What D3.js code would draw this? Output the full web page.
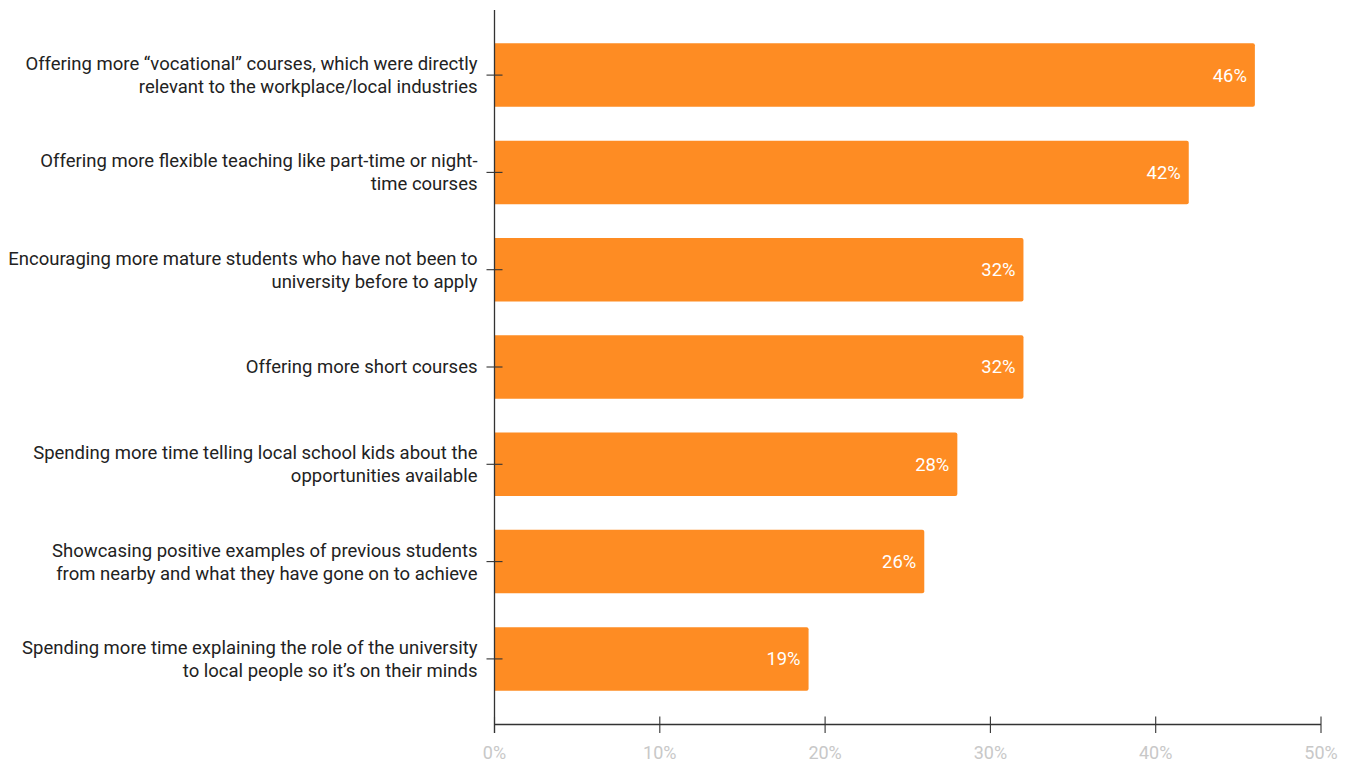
<!DOCTYPE html>
<html>
<head>
<meta charset="utf-8">
<script src="https://cdn.jsdelivr.net/npm/d3@7"></script>
<style>
  html, body { margin: 0; padding: 0; background: #fff; }
  svg { display: block; font-family: Roboto, "Noto Sans", sans-serif; }
</style>
</head>
<body>
<svg id="chart" width="1351" height="764"></svg>
<script>
// Survey answers: each category is split into the lines it is drawn on
const categories = [
  ["Offering more \u201cvocational\u201d courses, which were directly", "relevant to the workplace/local industries"],
  ["Offering more flexible teaching like part-time or night-", "time courses"],
  ["Encouraging more mature students who have not been to", "university before to apply"],
  ["Offering more short courses"],
  ["Spending more time telling local school kids about the", "opportunities available"],
  ["Showcasing positive examples of previous students", "from nearby and what they have gone on to achieve"],
  ["Spending more time explaining the role of the university", "to local people so it\u2019s on their minds"]
];
const values = [46, 42, 32, 32, 28, 26, 19];
const xTicks = [0, 10, 20, 30, 40, 50];

const svg = d3.select("#chart");
const left = 494.5, right = 1321;
const axisTop = 10, axisY = 724.5;

const x = d3.scaleLinear().domain([0, 50]).range([left, right]);
const y = d3.scaleBand()
  .domain(d3.range(categories.length))
  .range([26.5, 707.5])
  .paddingInner(0.347)
  .paddingOuter(0.173);

// Bars
svg.append("g").selectAll("path")
  .data(values)
  .join("path")
  .attr("fill", "#fe8c23")
  .attr("d", (d, i) => {
    const x0 = x(0), x1 = x(d), y0 = y(i), h = y.bandwidth(), r = 2;
    return `M${x0},${y0}H${x1 - r}Q${x1},${y0} ${x1},${y0 + r}V${y0 + h - r}Q${x1},${y0 + h} ${x1 - r},${y0 + h}H${x0}Z`;
  });

// Value labels inside bar ends
svg.append("g").selectAll("text")
  .data(values)
  .join("text")
  .attr("x", d => x(d) - 8)
  .attr("y", (d, i) => y(i) + y.bandwidth() / 2)
  .attr("dy", "0.35em")
  .attr("text-anchor", "end")
  .attr("fill", "#fff")
  .attr("font-size", "18.4px")
  .text(d => d + "%");

// Left axis: line and crossing ticks
const gy = svg.append("g");
gy.append("line")
  .attr("x1", left).attr("x2", left)
  .attr("y1", axisTop).attr("y2", axisY + 8.5)
  .attr("stroke", "#333").attr("stroke-width", 1.3);
gy.selectAll("line.tick")
  .data(categories)
  .join("line")
  .attr("class", "tick")
  .attr("x1", left - 8).attr("x2", left + 8)
  .attr("y1", (d, i) => y(i) + y.bandwidth() / 2)
  .attr("y2", (d, i) => y(i) + y.bandwidth() / 2)
  .attr("stroke", "#333").attr("stroke-width", 1.1);

// Category labels
const lineH = 23;
gy.selectAll("text")
  .data(categories)
  .join("text")
  .attr("text-anchor", "end")
  .attr("fill", "#222")
  .attr("font-size", "18.5px")
  .each(function (lines, i) {
    const cy = y(i) + y.bandwidth() / 2;
    const t = d3.select(this);
    lines.forEach((ln, k) => {
      t.append("tspan")
        .attr("x", left - 17)
        .attr("y", cy + (k - (lines.length - 1) / 2) * lineH)
        .attr("dy", "0.35em")
        .text(ln);
    });
  });

// Bottom axis
const gx = svg.append("g");
gx.append("line")
  .attr("x1", left).attr("x2", right)
  .attr("y1", axisY).attr("y2", axisY)
  .attr("stroke", "#333").attr("stroke-width", 1.3);
gx.selectAll("line.tick")
  .data(xTicks)
  .join("line")
  .attr("class", "tick")
  .attr("x1", d => x(d)).attr("x2", d => x(d))
  .attr("y1", axisY - 8).attr("y2", axisY + 8.5)
  .attr("stroke", "#333").attr("stroke-width", 1.1);
gx.selectAll("text")
  .data(xTicks)
  .join("text")
  .attr("x", d => x(d))
  .attr("y", 753)
  .attr("dy", "0.35em")
  .attr("text-anchor", "middle")
  .attr("fill", "#c8c8c8")
  .attr("font-size", "18px")
  .text(d => d + "%");
</script>
</body>
</html>
